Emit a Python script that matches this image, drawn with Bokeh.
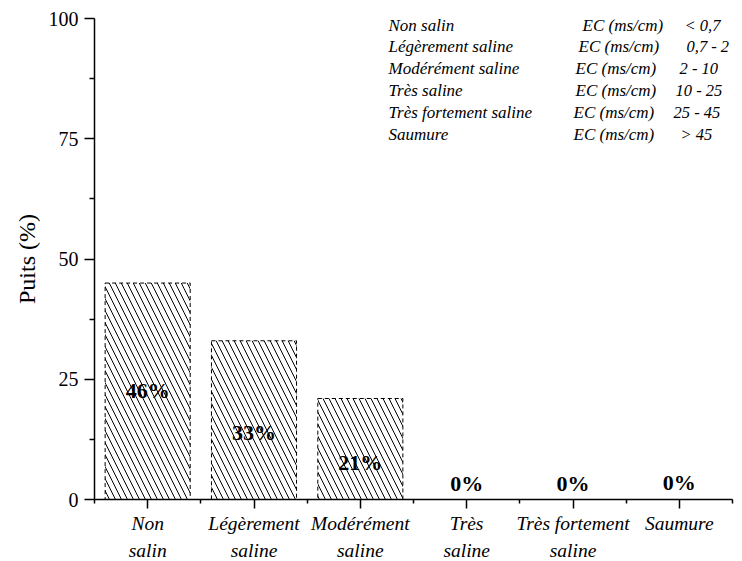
from bokeh.plotting import figure
from bokeh.models import Range1d, FixedTicker, ColumnDataSource, LabelSet
from bokeh.core.properties import value
from bokeh.embed import file_html
from bokeh.resources import INLINE
import numpy as np

# ---- data ----
categories = ["Non salin", "Légèrement saline", "Modérément saline",
              "Très saline", "Très fortement saline", "Saumure"]
tick_labels = ["Non\nsalin", "Légèrement\nsaline", "Modérément\nsaline",
               "Très\nsaline", "Très fortement\nsaline", "Saumure"]
puits_pct = [45, 33, 21, 0, 0, 0]
bar_labels = ["46%", "33%", "21%", "0%", "0%", "0%"]

legend_names = ["Non salin", "Légèrement saline", "Modérément saline",
                "Très saline", "Très fortement saline", "Saumure"]
legend_unit = ["EC (ms/cm)"] * 6
legend_ranges = ["< 0,7", "0,7 - 2", "2 - 10", "10 - 25", "25 - 45", ">  45"]

y_ticks = [0, 25, 50, 75, 100]
y_minor = [12.5, 37.5, 62.5, 87.5]

# ---- layout helpers (positions only) ----
label_y = [22.7, 13.9, 7.7, 3.3, 3.3, 3.5]
FONT = "Liberation Serif"

n = len(categories)
xc = np.arange(n) + 0.5

FW, FH = 638, 481
LEFT, TOP = 94, 18

p = figure(frame_width=FW, frame_height=FH, output_backend="svg",
           toolbar_location=None, x_range=Range1d(0, n), y_range=Range1d(0, 100),
           min_border_left=LEFT, min_border_right=8, min_border_top=TOP,
           min_border_bottom=20)
p.outline_line_color = None
p.xgrid.visible = False
p.ygrid.visible = False
p.background_fill_color = "white"
p.border_fill_color = "white"

src = ColumnDataSource(dict(x=xc, top=puits_pct, lab=bar_labels, ly=label_y))
p.vbar(x="x", top="top", bottom=0, width=0.8, source=src,
       fill_color="white", line_color="black", line_dash="4 3", line_width=1,
       hatch_pattern="\\", hatch_color="black", hatch_scale=12, hatch_weight=1)

p.text(x="x", y="ly", text="lab", source=src, text_align="center",
       text_baseline="middle", text_font=value(FONT), text_font_style="bold",
       text_font_size="22px", text_color="black")

# axes
xa = p.xaxis[0]
xa.ticker = FixedTicker(ticks=list(xc), minor_ticks=list(range(n + 1)))
xa.major_label_overrides = {float(v): t for v, t in zip(xc, tick_labels)}
xa.major_label_text_font = FONT
xa.major_label_text_font_style = "italic"
xa.major_label_text_font_size = "19.5px"
xa.major_label_text_color = "black"
xa.major_label_text_line_height = 1.3
xa.major_label_standoff = 4
xa.major_tick_in = 0
xa.major_tick_out = 9
xa.minor_tick_in = 0
xa.minor_tick_out = 4
xa.axis_line_width = 1.5
xa.major_tick_line_width = 1.5
xa.minor_tick_line_width = 1.5

ya = p.yaxis[0]
ya.ticker = FixedTicker(ticks=y_ticks, minor_ticks=y_minor)
ya.major_label_text_font = FONT
ya.major_label_text_font_size = "20px"
ya.major_label_text_color = "black"
ya.major_label_standoff = 6
ya.major_tick_in = 0
ya.major_tick_out = 10
ya.minor_tick_in = 0
ya.minor_tick_out = 5
ya.axis_line_width = 1.5
ya.major_tick_line_width = 1.5
ya.minor_tick_line_width = 1.5
ya.axis_label = "Puits (%)"
ya.axis_label_text_font = FONT
ya.axis_label_text_font_style = "normal"
ya.axis_label_text_font_size = "24px"
ya.axis_label_text_color = "black"
ya.axis_label_standoff = 6

# legend text block (top right)
px_per_cat = FW / n
px_per_pct = FH / 100.0
def dx(px):
    return (px - LEFT) / px_per_cat
def dy(py):
    return (TOP + FH - py) / px_per_pct

row_base = [30 + 21.8 * i for i in range(6)]
name_x = [388] * 6
unit_x = [582, 578, 575, 575, 573, 573]
val_x = [684, 686, 679, 675, 673, 680]

for xs, texts, fs in ((name_x, legend_names, "17px"), (unit_x, legend_unit, "17px"),
                      (val_x, legend_ranges, "16.5px")):
    s = ColumnDataSource(dict(x=[dx(v) for v in xs], y=[dy(v) for v in row_base], t=texts))
    p.add_layout(LabelSet(x="x", y="y", text="t", source=s,
                          text_font=value(FONT), text_font_style="italic",
                          text_font_size=fs, text_baseline="alphabetic",
                          text_align="left", text_color="black"))

open("out.html", "w").write(file_html(p, INLINE))
